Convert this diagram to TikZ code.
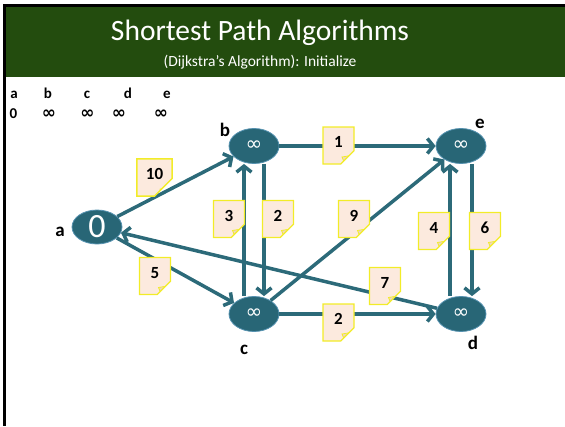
\documentclass[tikz,border=0pt]{standalone}
\usepackage{fontspec}
\setmainfont{Carlito}
\newfontfamily\symfont{DejaVu Sans}
\usepackage{tikz}
\usetikzlibrary{arrows,arrows.meta,shapes}

\definecolor{bannergreen}{RGB}{35,76,14}
\definecolor{edgeteal}{RGB}{44,106,121}
\definecolor{vertfill}{RGB}{40,102,118}
\definecolor{vertline}{RGB}{86,146,176}
\definecolor{notefill}{RGB}{252,234,222}
\definecolor{notefold}{RGB}{238,214,196}
\definecolor{noteline}{RGB}{242,236,40}

\tikzset{
  vert/.style={ellipse, fill=vertfill, draw=vertline, line width=0.8pt,
    minimum width=50pt, minimum height=35pt, inner sep=0pt, text=white},
  conn/.style={->, >={Straight Barb[length=6pt,width=15pt]}, line width=3.5pt, draw=edgeteal},
  wnote/.style={chamfered rectangle, chamfered rectangle corners=south east,
    chamfered rectangle xsep=9pt, chamfered rectangle ysep=9pt,
    draw=noteline, line width=1.3pt, fill=notefill,
    minimum width=31pt, minimum height=37pt, inner sep=0pt,
    text height=12pt, text depth=8pt,
    font=\bfseries\fontsize{17}{17}\selectfont,
    path picture={
      \filldraw[draw=noteline, fill=notefold, line width=0.8pt]
        ([xshift=-9pt]path picture bounding box.south east)
        -- ([yshift=9pt]path picture bounding box.south east)
        -- ([shift={(-12pt,7pt)}]path picture bounding box.south east) -- cycle;}},
  vlabel/.style={font=\bfseries\fontsize{19}{19}\selectfont},
  tabtxt/.style={font=\bfseries\fontsize{15}{15}\selectfont, inner sep=0pt, anchor=base}
}

\begin{document}
\begin{tikzpicture}[x=1pt, y=-1pt]

  \useasboundingbox (0,0) rectangle (565,426);

  \fill[black] (3,4) rectangle (565,7);
  \fill[black] (3,4) rectangle (6,426);
  \fill[bannergreen] (6,7) rectangle (565,77);

  \node[text=white, font=\fontsize{29.5}{29.5}\selectfont] (ttl) at (260,33) {Shortest Path Algorithms};
  \node[text=white, font=\fontsize{15.5}{15.5}\selectfont] (sub) at (260,62) {(Dijkstra’s Algorithm): Initialize};

  % distance table
  \foreach \x/\t [count=\i] in {14/a, 48/b, 87/c, 128/d, 167/e}
    \node[tabtxt] (h\i) at (\x,98) {\t};
  \node[tabtxt] (t0) at (13.5,118) {0};
  \foreach \x [count=\i] in {49, 87.5, 119, 161}
    \node[tabtxt, font=\symfont\bfseries\fontsize{17}{17}\selectfont] (t\i) at (\x,118) {∞};

  % vertices
  \node[vert, minimum height=34pt, font=\fontsize{34}{34}\selectfont] (a) at (97,227) {0};
  \node[vert, font=\symfont\fontsize{20}{20}\selectfont] (b) at (254,146) {∞};
  \node[vert, font=\symfont\fontsize{20}{20}\selectfont] (c) at (254,314) {∞};
  \node[vert, font=\symfont\fontsize{20}{20}\selectfont] (e) at (461,146) {∞};
  \node[vert, font=\symfont\fontsize{20}{20}\selectfont] (d) at (461,314) {∞};

  \node[vlabel] (la) at (60,232) {a};
  \node[vlabel] (lb) at (225,130) {b};
  \node[vlabel] (lc) at (244,350) {c};
  \node[vlabel] (le) at (480,124) {e};
  \node[vlabel] (ld) at (473,343) {d};

  % edges
  \draw[conn] (a) -- (b);
  \draw[conn] (a) -- (c);
  \draw[conn] (b) -- (e);
  \draw[conn] ([xshift=10pt]b.south) -- ([xshift=10pt]c.north);
  \draw[conn] ([xshift=-10pt]c.north) -- ([xshift=-10pt]b.south);
  \draw[conn] (c) -- (e);
  \draw[conn] (c) -- (d);
  \draw[conn] (d) -- (a);
  \draw[conn] ([xshift=-11pt]d.north) -- ([xshift=-11pt]e.south);
  \draw[conn] ([xshift=11pt]e.south) -- ([xshift=11pt]d.north);

  % weights
  \node[wnote] (wab) at (154.5,177.5) {10};
  \node[wnote] (wac) at (155,276) {5};
  \node[wnote] (wcb) at (229,219) {3};
  \node[wnote] (wbc) at (278,219) {2};
  \node[wnote] (wbe) at (338.5,145.5) {1};
  \node[wnote] (wce) at (354,219) {9};
  \node[wnote] (wde) at (434,231) {4};
  \node[wnote] (wed) at (485,231) {6};
  \node[wnote] (wda) at (385,286) {7};
  \node[wnote] (wcd) at (338.5,322.5) {2};

\end{tikzpicture}
\end{document}
